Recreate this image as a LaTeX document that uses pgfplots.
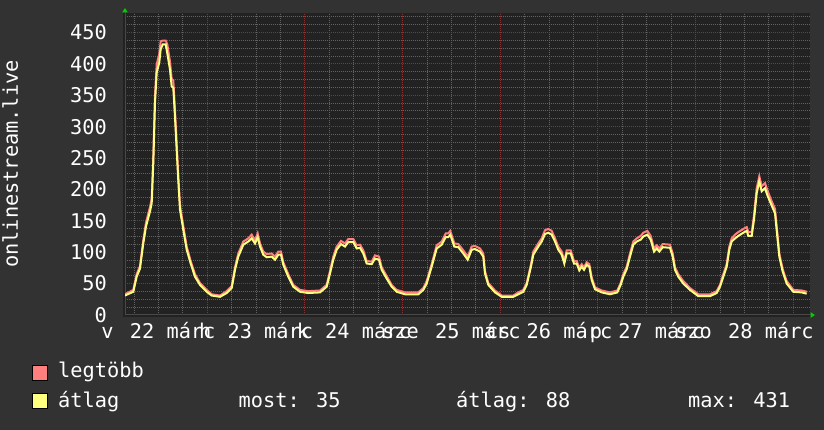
\documentclass[border=0pt]{standalone}
\usepackage{fontspec}
\setmainfont{DejaVu Sans Mono}
\usepackage{pgfplots}
\pgfplotsset{compat=1.18}
\usepackage{pgfplotstable}
\usetikzlibrary{arrows.meta}

\definecolor{outerbg}{HTML}{323232}
\definecolor{canvasbg}{HTML}{222222}
\definecolor{gridminor}{HTML}{626262}
\definecolor{gridmajor}{HTML}{843636}
\definecolor{maxline}{HTML}{FF7F7F}
\definecolor{avgline}{HTML}{FFFF7F}
\definecolor{arrowgreen}{HTML}{00CC00}
\definecolor{axisgray}{HTML}{484848}

\newcommand\chartfont{\fontsize{20.3bp}{24bp}\selectfont}
\newcommand\daylab[3]{#1\kern4bp{} #2 #3}

% hours since 22 March 00:00; legtobb (max) and atlag (average)
\pgfplotstableread{
h      max  avg
3.78   33   31
5.82   40   37
6.65   65   61
7.46   78   74
8.27   119  114
8.94   147  141
9.92   172  165
10.34  185  178
10.73  251  242
11.15  350  338
11.57  399  386
12.20  416  402
12.55  436  423
13.04  437  431
13.78  437  431
14.17  431  417
14.83  404  391
15.25  376  364
15.65  374  362
16.06  327  316
16.48  273  263
16.87  223  215
17.29  175  168
18.10  142  136
18.94  109  104
19.92  86   82
20.98  65   61
22.21  51   48
23.85  40   37
25.08  33   31
27.12  31   29
28.77  38   35
30.00  46   43
30.81  76   72
31.62  98   93
32.85  117  112
34.07  122  117
34.91  128  122
35.72  119  114
36.38  130  124
36.95  114  109
37.76  101  96
38.60  97   92
39.82  98   93
40.64  93   88
41.45  101  96
42.11  101  96
42.68  84   80
43.90  65   61
45.13  48   45
46.78  40   37
48.82  38   35
51.69  39   36
53.34  48   45
54.15  70   66
54.96  93   88
55.80  109  104
56.85  118  113
57.84  114  109
58.65  121  116
59.88  121  116
60.71  111  106
61.52  112  107
62.33  103  98
63.17  86   82
64.40  85   81
65.21  95   90
66.19  93   88
66.86  76   72
68.08  62   58
69.31  48   45
70.54  40   37
72.58  36   33
75.85  36   33
77.08  43   40
77.91  54   50
79.14  81   77
80.37  111  106
81.60  117  112
82.58  130  124
83.22  130  124
83.71  134  128
84.70  114  109
85.68  113  108
86.91  103  98
87.99  93   88
88.97  109  104
89.78  110  105
91.01  106  101
91.82  98   93
92.24  70   66
93.05  51   48
94.70  39   36
96.34  31   29
99.19  31   29
100.42 36   33
101.65 40   37
102.49 51   48
103.54 81   77
104.11 101  96
105.34 114  109
106.17 122  117
106.98 135  129
107.79 137  131
108.63 134  128
109.44 122  117
110.25 109  104
111.09 101  96
111.73 86   82
112.31 103  98
113.30 103  98
114.11 86   82
114.77 86   82
115.41 75   71
116.00 81   77
116.57 76   72
117.23 84   80
117.87 81   77
118.46 60   56
119.27 44   41
120.92 39   36
122.95 36   33
124.75 39   36
125.58 51   48
126.22 65   61
127.06 77   73
127.87 98   93
128.68 117  112
129.52 122  117
130.50 126  120
131.14 131  125
132.12 134  128
132.96 126  120
133.77 106  101
134.43 111  106
135.07 106  101
135.91 113  108
137.70 112  107
138.36 98   93
138.93 76   72
139.74 65   61
140.97 54   50
142.61 43   40
144.65 33   30
147.53 33   30
149.17 38   35
149.98 48   45
150.80 65   61
151.63 81   77
152.27 109  104
152.86 122  117
153.67 128  122
154.48 132  126
155.71 137  131
156.55 140  134
156.94 132  126
157.78 132  126
158.34 159  152
159.00 202  194
159.64 221  213
160.23 205  197
161.04 210  202
161.61 199  191
162.44 185  178
163.50 169  162
164.07 131  125
164.56 98   93
165.39 73   69
166.38 54   50
168.00 40   37
170.06 39   36
171.29 37   34
}\streamdata

\begin{document}
\begin{tikzpicture}
\useasboundingbox (0,0) rectangle (824bp,430bp);
\fill[outerbg] (0,0) rectangle (824bp,430bp);
\fill[canvasbg] (123bp,113bp) rectangle (810bp,417bp);
\begin{axis}[
    at={(125bp,115bp)}, anchor=south west,
    scale only axis, width=685bp, height=302bp,
    xmin=3.78, xmax=172.1, ymin=0, ymax=481,
    axis x line=bottom, axis y line=left,
    axis line style={draw=axisgray, line width=1bp},
    x axis line style={-{Triangle[length=4.5bp,width=5.5bp,color=arrowgreen]}, shorten >=-5bp},
    y axis line style={-{Triangle[length=4.5bp,width=5.5bp,color=arrowgreen]}, shorten >=-5bp},
    xtick={24,48,72,96,120,144,168},
    xticklabels={\mbox{},\mbox{},\mbox{},\mbox{},\mbox{},\mbox{},\mbox{}},
    minor xtick={6,12,18,30,36,42,54,60,66,78,84,90,102,108,114,126,132,138,150,156,162},
    ytick={0,50,...,450},
    minor ytick={0,12.5,...,475},
    grid=both,
    major grid style={gridmajor, line width=1bp, dash pattern=on 1bp off 1bp},
    minor grid style={gridminor, line width=1bp, dash pattern=on 1bp off 1bp},
    major tick length=0pt, minor tick length=0pt,
    extra x ticks={12,36,60,84,108,132,156},
    extra x tick labels={\daylab{v}{22}{márc}, \daylab{h}{23}{márc}, \daylab{k}{24}{márc},
        \daylab{sze}{25}{márc}, \daylab{cs}{26}{márc}, \daylab{p}{27}{márc}, \daylab{szo}{28}{márc}},
    extra x tick style={grid=none},
    /pgf/number format/assume math mode=true,
    tick label style={font=\chartfont, text=white},
    x tick label style={anchor=base, inner sep=0pt, yshift=-24bp},
    y tick label style={anchor=east, inner sep=0pt, xshift=-18bp},
    ylabel={onlinestream.live},
    every axis y label/.style={at={(axis description cs:-0.1562,0.5)}, rotate=90, anchor=base, inner sep=0pt, font=\chartfont, text=white},
]
\addplot[maxline, line width=2bp] table[x=h, y=max] {\streamdata};
\addplot[avgline, line width=2bp] table[x=h, y=avg] {\streamdata};
\end{axis}
\path[fill=maxline, draw=black, line width=1bp] (32bp,49bp) rectangle (47bp,64bp);
\path[fill=avgline, draw=black, line width=1bp] (32bp,21bp) rectangle (47bp,36bp);
\begin{scope}[every node/.style={anchor=base west, inner sep=0pt, text=white, font=\chartfont}]
\node at (58bp,52.5bp) {legtöbb};
\node at (58bp,23bp) {átlag};
\node at (238.5bp,23bp) {most: 35};
\node at (456bp,23bp) {átlag: 88};
\node at (688bp,23bp) {max: 431};
\end{scope}
\end{tikzpicture}
\end{document}
